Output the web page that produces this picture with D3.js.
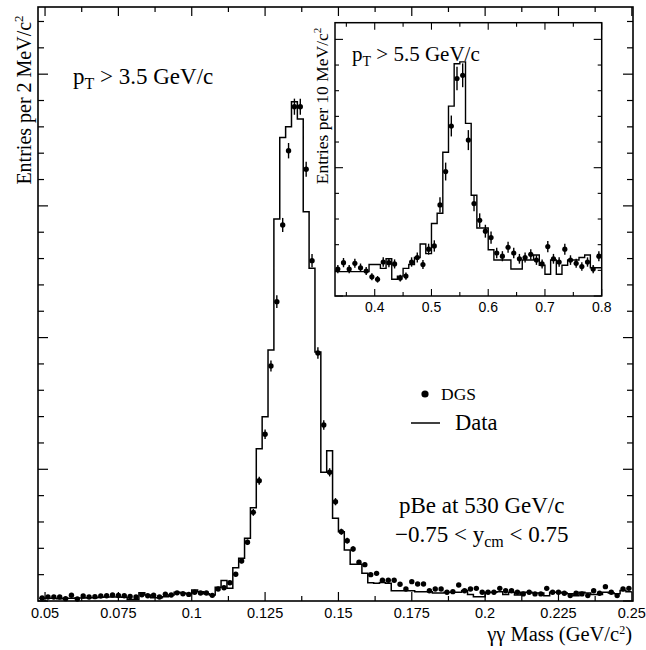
<!DOCTYPE html>
<html>
<head>
<meta charset="utf-8">
<script src="https://cdn.jsdelivr.net/npm/d3@7"></script>
<style>
  body { margin: 0; background: #fff; }
  svg text { font-family: "Liberation Serif", "Times New Roman", serif; fill: #000; }
  svg .ticklab { font-family: "Liberation Sans", Arial, sans-serif; }
</style>
</head>
<body>
<svg id="chart" width="646" height="650"></svg>
<script>
// ---- main panel: gamma-gamma mass, 2 MeV/c^2 bins ----
const mainBinStart = 0.048;
const mainBinWidth = 0.002;
// measured histogram ("Data"), one entry per bin
const mainData = [
  20, 20, 20, 18, 20, 20, 22, 22, 25, 25,
  28, 30, 30, 30, 28, 12, 12, 62, 46, 25,
  25, 33, 45, 66, 60, 55, 84, 70, 55, 45,
  105, 155, 96, 253, 324, 476, 708, 1156, 1399, 1906,
  2900, 3520, 3601, 3790, 3660, 2956, 2526, 1890, 977, 1141,
  628, 526, 387, 279, 279, 210, 139, 135, 140, 135,
  78, 78, 78, 78, 70, 70, 70, 60, 60, 66,
  66, 66, 80, 50, 33, 33, 66, 66, 70, 50,
  66, 45, 66, 66, 60, 60, 40, 66, 66, 60,
  55, 40, 66, 60, 50, 50, 66, 60, 55, 80,
  70
];
// simulation (DGS), one point per bin centre
const mainDGS = [
  23, 30, 30, 30, 18, 44, 15, 38, 30, 33,
  38, 40, 46, 42, 40, 35, 30, 48, 40, 44,
  30, 52, 46, 62, 55, 50, 66, 61, 61, 43,
  91, 101, 139, 203, 304, 446, 673, 913, 1266, 1784,
  2273, 2855, 3419, 3753, 3753, 3278, 2584, 1883, 1336, 977,
  754, 526, 458, 395, 294, 276, 200, 210, 157, 157,
  157, 127, 91, 147, 129, 129, 78, 91, 91, 66,
  71, 121, 78, 91, 96, 66, 66, 66, 96, 78,
  78, 66, 54, 66, 54, 54, 96, 66, 66, 59,
  41, 59, 54, 41, 78, 59, 109, 66, 41, 91,
  96
];
const mainTicks = [0.05, 0.075, 0.1, 0.125, 0.15, 0.175, 0.2, 0.225, 0.25];
const mainTickLabels = ["0.05", "0.075", "0.1", "0.125", "0.15", "0.175", "0.2", "0.225", "0.25"];

// ---- inset: higher pT, 10 MeV/c^2 bins ----
const insetBinStart = 0.33;
const insetBinWidth = 0.01;
const insetData = [
  38, 38, 38, 38, 38, 38, 49, 49, 43, 58,
  26, 31, 43, 49, 60, 81, 66, 113, 129, 224,
  296, 362, 365, 269, 157, 106, 106, 72, 56, 56,
  56, 42, 42, 56, 56, 64, 48, 34, 56, 34,
  48, 56, 56, 60, 64, 44, 44
];
const insetDGS = [
  42, 52, 42, 51, 44, 39, 30, 26, 53, 52,
  50, 28, 31, 53, 60, 49, 73, 78, 142, 194,
  265, 339, 344, 243, 144, 118, 101, 91, 67, 62,
  76, 67, 58, 60, 65, 56, 50, 77, 58, 53,
  73, 56, 51, 46, 53, 42, 62
];
const insetTicks = [0.4, 0.5, 0.6, 0.7, 0.8];
const insetTickLabels = ["0.4", "0.5", "0.6", "0.7", "0.8"];

const svg = d3.select("#chart");

// step outline for a histogram given its first edge and bin width
function stepPath(x, y, start, width, values) {
  const pts = values.map((v, i) => [start + i * width, v]);
  pts.push([start + values.length * width, values[values.length - 1]]);
  return d3.line().x(d => x(d[0])).y(d => y(d[1])).curve(d3.curveStepAfter)(pts);
}

// ticks on all four sides, pointing inward
function frameTicks(g, x, y, xMajor, xMinor, yMajor, yMinor, lx, sx, ly, sy) {
  const [x0, x1] = x.range();
  const [y0, y1] = y.range();
  const put = (vals, len, horiz) => {
    vals.forEach(v => {
      if (horiz) {
        const px = x(v);
        g.append("line").attr("x1", px).attr("x2", px).attr("y1", y0).attr("y2", y0 - len);
        g.append("line").attr("x1", px).attr("x2", px).attr("y1", y1).attr("y2", y1 + len);
      } else {
        const py = y(v);
        g.append("line").attr("x1", x0).attr("x2", x0 + len).attr("y1", py).attr("y2", py);
        g.append("line").attr("x1", x1).attr("x2", x1 - len).attr("y1", py).attr("y2", py);
      }
    });
  };
  put(xMinor, sx, true);
  put(xMajor, lx, true);
  put(yMinor, sy, false);
  put(yMajor, ly, false);
}

function drawPoints(g, x, y, start, width, values, r) {
  const pts = values.map((v, i) => ({ m: start + (i + 0.5) * width, v }));
  g.selectAll("line.err").data(pts).join("line")
    .attr("class", "err")
    .attr("x1", d => x(d.m)).attr("x2", d => x(d.m))
    .attr("y1", d => y(d.v + Math.sqrt(d.v)))
    .attr("y2", d => y(Math.max(0, d.v - Math.sqrt(d.v))))
    .attr("stroke", "#000").attr("stroke-width", 1.4);
  g.selectAll("circle").data(pts).join("circle")
    .attr("cx", d => x(d.m)).attr("cy", d => y(d.v))
    .attr("r", r).attr("fill", "#000");
}

// ================= main panel =================
const mx = d3.scaleLinear().domain([0.0476, 0.2504]).range([38, 633]);
const my = d3.scaleLinear().domain([0, 4510]).range([601, 7]);

const main = svg.append("g");
main.append("path")
  .attr("d", stepPath(mx, my, mainBinStart, mainBinWidth, mainData))
  .attr("fill", "none").attr("stroke", "#000").attr("stroke-width", 1.5);
drawPoints(main.append("g"), mx, my, mainBinStart, mainBinWidth, mainDGS, 2.7);

const mainTickG = main.append("g").attr("stroke", "#000").attr("stroke-width", 1.2);
frameTicks(mainTickG, mx, my,
  mainTicks, d3.range(0.0625, 0.25, 0.025),
  d3.range(0, 4501, 1000), d3.range(200, 4501, 200).filter(v => v % 1000 !== 0),
  9, 5, 10, 6);
main.append("rect")
  .attr("x", 38).attr("y", 7).attr("width", 595).attr("height", 594)
  .attr("fill", "none").attr("stroke", "#000").attr("stroke-width", 1.6);

main.selectAll("text.xt").data(mainTicks).join("text")
  .attr("class", "ticklab")
  .attr("x", d => mx(d)).attr("y", 618)
  .attr("text-anchor", "middle").attr("font-size", 14.5)
  .text((d, i) => mainTickLabels[i]);

// axis titles
const yt = main.append("text")
  .attr("transform", "translate(31,100) rotate(-90)")
  .attr("text-anchor", "middle").attr("font-size", 20);
yt.append("tspan").text("Entries per 2 MeV/c");
yt.append("tspan").attr("dy", -8).attr("font-size", 13).text("2");

const xt = main.append("text")
  .attr("x", 632).attr("y", 641).attr("text-anchor", "end").attr("font-size", 20.5);
xt.append("tspan").text("γγ Mass (GeV/c");
xt.append("tspan").attr("dy", -7).attr("font-size", 12).text("2");
xt.append("tspan").attr("dy", 7).text(")");

// annotations
const pt1 = main.append("text").attr("x", 73).attr("y", 84).attr("font-size", 23);
pt1.append("tspan").text("p");
pt1.append("tspan").attr("dy", 5).attr("font-size", 16).text("T");
pt1.append("tspan").attr("dy", -5).text(" > 3.5 GeV/c");

main.append("text").attr("x", 399).attr("y", 513).attr("font-size", 23)
  .text("pBe at 530 GeV/c");
const yc = main.append("text").attr("x", 395).attr("y", 542).attr("font-size", 23);
yc.append("tspan").text("\u22120.75 < y");
yc.append("tspan").attr("dy", 5).attr("font-size", 16).text("cm");
yc.append("tspan").attr("dy", -5).text(" < 0.75");

// legend
main.append("circle").attr("cx", 425).attr("cy", 394).attr("r", 3.6).attr("fill", "#000");
main.append("text").attr("x", 441).attr("y", 400).attr("font-size", 17.5).text("DGS");
main.append("line").attr("x1", 411).attr("x2", 440).attr("y1", 423).attr("y2", 423)
  .attr("stroke", "#000").attr("stroke-width", 1.5);
main.append("text").attr("x", 455).attr("y", 430).attr("font-size", 22.5).text("Data");

// ================= inset =================
const ix = d3.scaleLinear().domain([0.33, 0.80]).range([335, 601.7]);
const iy = d3.scaleLinear().domain([0, 426]).range([296, 22.7]);

const inset = svg.append("g");
inset.append("rect").attr("x", 335).attr("y", 22.7).attr("width", 266.7).attr("height", 273.3)
  .attr("fill", "#fff");
inset.append("path")
  .attr("d", stepPath(ix, iy, insetBinStart, insetBinWidth, insetData))
  .attr("fill", "none").attr("stroke", "#000").attr("stroke-width", 1.4);
drawPoints(inset.append("g"), ix, iy, insetBinStart, insetBinWidth, insetDGS, 2.6);

const insetTickG = inset.append("g").attr("stroke", "#000").attr("stroke-width", 1.1);
frameTicks(insetTickG, ix, iy,
  insetTicks, [0.35, 0.45, 0.55, 0.65, 0.75],
  [0, 200, 400], d3.range(40, 426, 40).filter(v => v % 200 !== 0),
  7, 4, 8, 4);
inset.append("rect").attr("x", 335).attr("y", 22.7).attr("width", 266.7).attr("height", 273.3)
  .attr("fill", "none").attr("stroke", "#000").attr("stroke-width", 1.5);

inset.selectAll("text.xt").data(insetTicks).join("text")
  .attr("class", "ticklab")
  .attr("x", d => ix(d)).attr("y", 312)
  .attr("text-anchor", "middle").attr("font-size", 14)
  .text((d, i) => insetTickLabels[i]);

const iyt = inset.append("text")
  .attr("transform", "translate(328,106) rotate(-90)")
  .attr("text-anchor", "middle").attr("font-size", 17.5);
iyt.append("tspan").text("Entries per 10 MeV/c");
iyt.append("tspan").attr("dy", -7).attr("font-size", 11).text("2");

const pt2 = inset.append("text").attr("x", 352).attr("y", 61).attr("font-size", 21);
pt2.append("tspan").text("p");
pt2.append("tspan").attr("dy", 5).attr("font-size", 14).text("T");
pt2.append("tspan").attr("dy", -5).text(" > 5.5 GeV/c");
</script>
</body>
</html>
